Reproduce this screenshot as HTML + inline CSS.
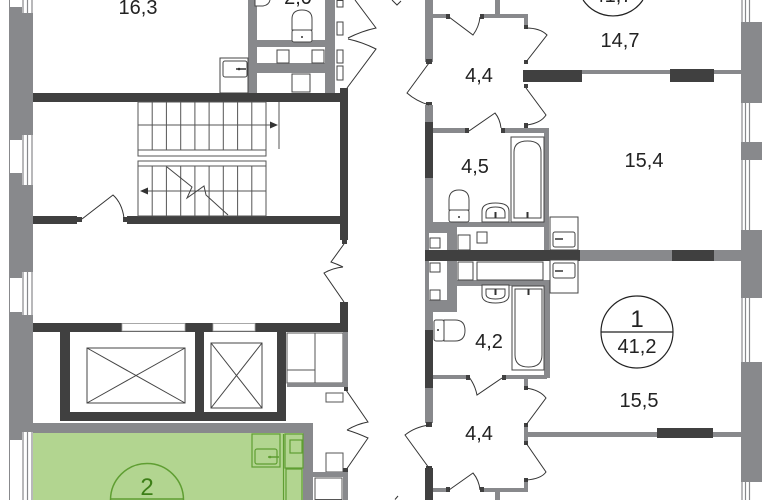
<!DOCTYPE html>
<html><head><meta charset="utf-8"><style>
html,body{margin:0;padding:0;background:#fff;width:770px;height:500px;overflow:hidden;}
svg{display:block;}
text{font-family:"Liberation Sans",Arial,sans-serif;}
</style></head><body>
<svg width="770" height="500" viewBox="0 0 770 500" xmlns="http://www.w3.org/2000/svg" style="overflow:hidden">
<rect width="770" height="500" fill="#fff"/>

<!-- exterior walls -->
<rect x="9" y="0" width="24" height="500" fill="#88898c"/>
<rect x="741" y="0" width="21" height="500" fill="#88898c"/>

<!-- left windows -->
<g stroke="#88898c" stroke-width="1.2">
<rect x="10" y="0" width="12" height="7" fill="#fff" stroke="none"/>
<rect x="22" y="0" width="11" height="13" fill="#fff" stroke="none"/>
<line x1="23" y1="0" x2="23" y2="13"/><line x1="27.5" y1="0" x2="27.5" y2="13"/><line x1="32" y1="0" x2="32" y2="13"/>
<rect x="10" y="140" width="12" height="33" fill="#fff" stroke="none"/>
<rect x="22" y="135" width="11" height="50" fill="#fff" stroke="none"/>
<line x1="23" y1="135" x2="23" y2="185"/><line x1="27.5" y1="135" x2="27.5" y2="185"/><line x1="32" y1="135" x2="32" y2="185"/>
<rect x="10" y="278" width="12" height="34" fill="#fff" stroke="none"/>
<rect x="22" y="272" width="11" height="43" fill="#fff" stroke="none"/>
<line x1="23" y1="272" x2="23" y2="315"/><line x1="27.5" y1="272" x2="27.5" y2="315"/><line x1="32" y1="272" x2="32" y2="315"/>
<rect x="10" y="440" width="12" height="60" fill="#fff" stroke="none"/>
<rect x="22" y="432" width="11" height="68" fill="#fff" stroke="none"/>
<line x1="23" y1="432" x2="23" y2="500"/><line x1="27.5" y1="432" x2="27.5" y2="500"/><line x1="32" y1="432" x2="32" y2="500"/>
</g>
<!-- right windows -->
<g stroke="#88898c" stroke-width="1.2">
<rect x="741" y="0" width="21" height="22" fill="#fff" stroke="none"/>
<line x1="742" y1="0" x2="742" y2="22"/><line x1="745.5" y1="0" x2="745.5" y2="22"/><line x1="749.5" y1="0" x2="749.5" y2="22"/>
<rect x="741" y="103" width="21" height="39" fill="#fff" stroke="none"/>
<line x1="742" y1="103" x2="742" y2="142"/><line x1="745.5" y1="103" x2="745.5" y2="142"/><line x1="749.5" y1="103" x2="749.5" y2="142"/>
<rect x="741" y="160" width="21" height="70" fill="#fff" stroke="none"/>
<line x1="742" y1="160" x2="742" y2="230"/><line x1="745.5" y1="160" x2="745.5" y2="230"/><line x1="749.5" y1="160" x2="749.5" y2="230"/>
<rect x="741" y="298" width="21" height="64" fill="#fff" stroke="none"/>
<line x1="742" y1="298" x2="742" y2="362"/><line x1="745.5" y1="298" x2="745.5" y2="362"/><line x1="749.5" y1="298" x2="749.5" y2="362"/>
<rect x="741" y="482" width="21" height="18" fill="#fff" stroke="none"/>
<line x1="742" y1="482" x2="742" y2="500"/><line x1="745.5" y1="482" x2="745.5" y2="500"/><line x1="749.5" y1="482" x2="749.5" y2="500"/>
</g>

<!-- top-left bathroom block -->
<rect x="248" y="0" width="9" height="93" fill="#88898c"/>
<rect x="325" y="0" width="10" height="93" fill="#88898c"/>
<rect x="257" y="40" width="68" height="7" fill="#88898c"/>
<rect x="257" y="63" width="68" height="10" fill="#88898c"/>
<g fill="#fff" stroke="#444" stroke-width="1">
<path d="M255 0 L255 6 L263 6 Q269 5 270 0"/>
<path d="M292 30 L292 19 Q292 10 302 10 Q312 10 312 19 L312 30 Z"/>
<rect x="292" y="30" width="20" height="12" rx="2"/>
<rect x="277" y="50" width="12" height="13"/>
<rect x="312" y="50" width="12" height="13"/>
<rect x="292" y="74" width="18" height="18"/>
<rect x="220" y="58" width="28" height="35"/>
<rect x="223" y="61" width="24" height="16" rx="2"/>
<rect x="337" y="0.5" width="6" height="6.5"/>
<rect x="337" y="22" width="6" height="13"/>
<rect x="337" y="50" width="6" height="13"/>
<rect x="337" y="66" width="6" height="14"/>
</g>
<circle cx="302" cy="37" r="1" fill="#333"/>
<line x1="236" y1="69" x2="246" y2="69" stroke="#333" stroke-width="1.5"/>
<circle cx="239" cy="69" r="1.3" fill="#333"/>

<!-- door top center -->
<g fill="none" stroke="#333" stroke-width="1">
<path d="M355 0 L376 28 Q362 31 348 38"/>
<path d="M348 39 Q362 42 376 49 L347 88"/>
<path d="M392 0 L397 5 L401 1"/>
</g>

<!-- stair walls -->
<rect x="33" y="93" width="315" height="9" fill="#404040"/>
<rect x="340" y="88" width="8" height="152" fill="#404040"/>
<rect x="33" y="216" width="44" height="8" fill="#404040"/>
<rect x="77" y="217" width="5" height="5" fill="#404040"/>
<rect x="127" y="216" width="213" height="8" fill="#404040"/>
<rect x="123" y="217" width="5" height="5" fill="#404040"/>
<path d="M82 219 L113 195 Q122 203 124 218" fill="none" stroke="#333" stroke-width="1"/>

<!-- stairs -->
<g fill="none" stroke="#555" stroke-width="1">
<rect x="138" y="102" width="128" height="48"/>
<line x1="152.2" y1="102" x2="152.2" y2="150"/><line x1="166.4" y1="102" x2="166.4" y2="150"/><line x1="180.7" y1="102" x2="180.7" y2="150"/><line x1="194.9" y1="102" x2="194.9" y2="150"/><line x1="209.1" y1="102" x2="209.1" y2="150"/><line x1="223.3" y1="102" x2="223.3" y2="150"/><line x1="237.6" y1="102" x2="237.6" y2="150"/><line x1="251.8" y1="102" x2="251.8" y2="150"/>
<line x1="138" y1="125" x2="272" y2="125"/>
<line x1="279" y1="102" x2="279" y2="149"/>
<rect x="138" y="150" width="128" height="6"/>
<rect x="138" y="161" width="128" height="5"/>
<rect x="138" y="166" width="128" height="50"/>
<line x1="152.2" y1="166" x2="152.2" y2="216"/><line x1="166.4" y1="166" x2="166.4" y2="216"/><line x1="180.7" y1="166" x2="180.7" y2="216"/><line x1="194.9" y1="166" x2="194.9" y2="216"/><line x1="209.1" y1="166" x2="209.1" y2="216"/><line x1="223.3" y1="166" x2="223.3" y2="216"/><line x1="237.6" y1="166" x2="237.6" y2="216"/><line x1="251.8" y1="166" x2="251.8" y2="216"/>
<line x1="146" y1="191" x2="266" y2="191"/>
<path d="M167 167 L192 187 L187 198 L204 186 L206 195 L228 215" stroke="#444"/>
</g>
<path d="M278 125 L270 121.5 L270 128.5 Z" fill="#333"/>
<path d="M140 191 L148 187.5 L148 194.5 Z" fill="#333"/>

<!-- door stair/lobby -->
<rect x="342" y="240" width="5" height="4" fill="#404040"/>
<g fill="none" stroke="#333" stroke-width="1">
<path d="M344 244 L331 262 Q337 264 343 267"/>
<path d="M344 302 L324 273 Q333 268 343 267"/>
</g>
<rect x="340" y="302" width="8" height="30" fill="#404040"/>

<!-- lobby wall & elevators -->
<rect x="33" y="323" width="315" height="9" fill="#404040"/>
<rect x="122" y="323.5" width="63" height="7.5" fill="#fff" stroke="#aaa" stroke-width="0.8"/>
<rect x="213" y="323.5" width="42" height="7.5" fill="#fff" stroke="#aaa" stroke-width="0.8"/>
<rect x="60" y="332" width="10" height="89" fill="#404040"/>
<rect x="195" y="332" width="9" height="89" fill="#404040"/>
<rect x="277" y="332" width="9" height="89" fill="#404040"/>
<rect x="60" y="412" width="226" height="9" fill="#404040"/>
<g fill="none" stroke="#444" stroke-width="1">
<rect x="87" y="348" width="98" height="55"/>
<line x1="87" y1="348" x2="185" y2="403"/><line x1="185" y1="348" x2="87" y2="403"/>
<rect x="211" y="343" width="51" height="65"/>
<line x1="211" y1="343" x2="262" y2="408"/><line x1="262" y1="343" x2="211" y2="408"/>
</g>
<g fill="#fff" stroke="#555" stroke-width="1">
<rect x="287" y="333" width="28" height="37"/>
<rect x="287" y="370" width="28" height="13"/>
<rect x="315" y="333" width="28" height="50"/>
<rect x="326" y="393" width="17" height="9"/>
<rect x="326" y="453" width="17" height="19"/>
<rect x="315" y="478" width="27" height="21.5"/>
</g>
<rect x="343" y="332" width="5" height="55" fill="#88898c"/>
<rect x="287" y="383" width="61" height="4" fill="#88898c"/>
<rect x="344" y="387" width="4" height="4" fill="#404040"/>
<g fill="none" stroke="#333" stroke-width="1">
<path d="M346 390 L368 422 Q357 424 347 430"/>
<path d="M347 430 Q357 433 368 438 L346 470"/>
</g>
<rect x="343" y="468" width="5" height="4" fill="#404040"/>
<rect x="313" y="472" width="35" height="5" fill="#88898c"/>
<rect x="343" y="472" width="5" height="28" fill="#88898c"/>

<!-- green apartment -->
<rect x="33" y="423" width="280" height="10" fill="#88898c"/>
<rect x="303" y="423" width="10" height="77" fill="#88898c"/>
<rect x="33" y="433" width="270" height="67" fill="#b2d590"/>
<g fill="none" stroke="#5f9e32" stroke-width="1.2">
<rect x="252" y="434" width="28" height="33"/>
<rect x="255" y="449" width="22" height="15" rx="2"/>
<rect x="285" y="434" width="18" height="34"/>
<rect x="290" y="440" width="12" height="13"/>
<path d="M286 500 L286 469 L302 469 L302 500"/>
<line x1="283.5" y1="434" x2="283.5" y2="500"/>
<path d="M110.5 500 A36.5 36.5 0 0 1 183.5 500" stroke-width="1.5"/>
<line x1="110.5" y1="499" x2="183.5" y2="499" stroke-width="1.5"/>
</g>
<line x1="268" y1="457" x2="279" y2="457" stroke="#5f9e32" stroke-width="1.5"/>
<circle cx="270" cy="457" r="1.3" fill="#5f9e32"/>
<text x="147" y="495" font-size="24" fill="#3d7f17" text-anchor="middle">2</text>

<!-- right side: corridor wall -->
<rect x="425" y="0" width="8" height="62" fill="#88898c"/>
<rect x="426" y="59" width="6" height="5" fill="#404040"/>
<rect x="426" y="102" width="6" height="4" fill="#404040"/>
<rect x="425" y="105" width="8" height="17" fill="#88898c"/>
<rect x="425" y="122" width="8" height="56" fill="#404040"/>
<rect x="425" y="178" width="8" height="44" fill="#88898c"/>
<rect x="425" y="222" width="32" height="28" fill="#88898c"/>
<rect x="429" y="233" width="18" height="17" fill="#fff"/>
<rect x="425" y="260" width="32" height="52" fill="#88898c"/>
<rect x="429" y="260" width="18" height="40" fill="#fff"/>
<rect x="425" y="312" width="8" height="18" fill="#88898c"/>
<rect x="425" y="330" width="8" height="58" fill="#404040"/>
<rect x="425" y="388" width="8" height="35" fill="#88898c"/>
<rect x="426" y="422" width="6" height="5" fill="#404040"/>
<rect x="426" y="466" width="6" height="5" fill="#404040"/>
<rect x="425" y="468" width="8" height="32" fill="#404040"/>
<g fill="none" stroke="#333" stroke-width="1">
<path d="M429 63 L407 93 Q416 101 429 105"/>
<path d="M429 425 Q415 427 405 435 L429 468"/>
</g>

<!-- top right walls -->
<rect x="433" y="14" width="15" height="4" fill="#88898c"/>
<rect x="446" y="14" width="4" height="5" fill="#404040"/>
<rect x="480" y="14" width="48" height="4" fill="#88898c"/>
<rect x="480" y="14" width="4" height="5" fill="#404040"/>
<rect x="495" y="0" width="5" height="14" fill="#88898c"/>
<rect x="524" y="14" width="4" height="13" fill="#88898c"/>
<rect x="524" y="25" width="4" height="4" fill="#404040"/>
<rect x="524" y="60" width="4" height="4" fill="#404040"/>
<rect x="524" y="84" width="4" height="4" fill="#404040"/>
<rect x="524" y="123" width="4" height="5" fill="#404040"/>
<rect x="523" y="70" width="59" height="12" fill="#404040"/>
<rect x="582" y="70" width="88" height="4" fill="#88898c"/>
<rect x="670" y="69" width="44" height="13" fill="#404040"/>
<rect x="714" y="70" width="27" height="4" fill="#88898c"/>
<g fill="none" stroke="#333" stroke-width="1">
<path d="M449 17 L473 35 Q479 27 480 17"/>
<path d="M526 28 Q540 28 547 35 L526 62"/>
<path d="M526 88 L546 115 Q541 123 527 125"/>
<path d="M469 131 L495 113 Q500 119 501 128"/>
</g>
<rect x="433" y="128" width="34" height="5" fill="#88898c"/>
<rect x="465" y="128" width="4" height="5" fill="#404040"/>
<rect x="501" y="128" width="48" height="5" fill="#88898c"/>
<rect x="501" y="128" width="4" height="5" fill="#404040"/>
<rect x="544" y="128" width="5" height="122" fill="#88898c"/>
<rect x="433" y="222" width="114" height="5" fill="#88898c"/>

<!-- bathroom 4,5 fixtures -->
<g fill="#fff" stroke="#444" stroke-width="1">
<rect x="511" y="137" width="33" height="85"/>
<path d="M514 218 L514 152 Q514 141 527.5 141 Q541 141 541 152 L541 218 Z"/>
<path d="M449 210 L449 200 Q449 190 459 190 Q469 190 469 200 L469 210 Z"/>
<rect x="449" y="210" width="20" height="12" rx="2"/>
<path d="M482 222 L482 211 Q482 203 495.5 203 Q509 203 509 211 L509 222 Z"/>
<path d="M486 218 L486 213 Q486 207 495.5 207 Q505 207 505 213 L505 218 Z"/>
<rect x="430" y="238" width="10" height="10"/>
<rect x="458" y="235" width="12" height="15"/>
<rect x="477" y="232" width="10" height="11"/>
<rect x="550" y="217" width="28" height="33"/>
<rect x="553" y="232" width="22" height="15" rx="2"/>
</g>
<circle cx="459" cy="217" r="1" fill="#333"/>
<line x1="495.5" y1="212" x2="495.5" y2="218" stroke="#333" stroke-width="2"/>
<line x1="527.5" y1="212" x2="527.5" y2="218" stroke="#333" stroke-width="2"/>
<line x1="555" y1="239" x2="563" y2="239" stroke="#333" stroke-width="1.5"/>

<!-- middle horizontal wall -->
<rect x="425" y="250" width="155" height="11" fill="#404040"/>
<rect x="580" y="250" width="92" height="11" fill="#88898c"/>
<rect x="672" y="250" width="42" height="11" fill="#404040"/>
<rect x="714" y="250" width="27" height="11" fill="#88898c"/>

<!-- bathroom 4,2 -->
<rect x="457" y="280" width="93" height="6" fill="#88898c"/>
<rect x="544" y="280" width="6" height="98" fill="#88898c"/>
<g fill="#fff" stroke="#444" stroke-width="1">
<rect x="430" y="263" width="10" height="9"/>
<rect x="430" y="290" width="10" height="10"/>
<rect x="458" y="262" width="15" height="18"/>
<rect x="477" y="262" width="66" height="18"/>
<rect x="550" y="260" width="28" height="33"/>
<rect x="553" y="263" width="22" height="15" rx="2"/>
<rect x="512" y="286" width="32" height="84"/>
<path d="M515 289 L542 289 L542 355 Q542 367 528.5 367 Q515 367 515 355 Z"/>
<path d="M482 285 L482 295 Q482 303 495.5 303 Q509 303 509 295 L509 285 Z"/>
<path d="M486 289 L505 289 L505 294 Q505 299 495.5 299 Q486 299 486 294 Z"/>
<path d="M444 320 L455 320 Q465 320 465 330.5 Q465 341 455 341 L444 341 Z"/>
<rect x="434" y="320" width="10" height="21" rx="2"/>
</g>
<circle cx="438" cy="330" r="1" fill="#333"/>
<line x1="495.5" y1="289" x2="495.5" y2="295" stroke="#333" stroke-width="2"/>
<line x1="528.5" y1="289" x2="528.5" y2="295" stroke="#333" stroke-width="2"/>
<line x1="555" y1="271" x2="563" y2="271" stroke="#333" stroke-width="1.5"/>

<rect x="433" y="375" width="36" height="4" fill="#88898c"/>
<rect x="466" y="375" width="4" height="5" fill="#404040"/>
<rect x="502" y="375" width="45" height="4" fill="#88898c"/>
<rect x="502" y="375" width="4" height="5" fill="#404040"/>
<rect x="524" y="379" width="4" height="9" fill="#88898c"/>
<rect x="524" y="386" width="4" height="4" fill="#404040"/>
<rect x="524" y="425" width="4" height="18" fill="#88898c"/>
<rect x="524" y="423" width="4" height="4" fill="#404040"/>
<rect x="524" y="441" width="4" height="4" fill="#404040"/>
<rect x="528" y="432" width="129" height="5" fill="#88898c"/>
<rect x="657" y="428" width="56" height="10" fill="#404040"/>
<rect x="713" y="432" width="28" height="5" fill="#88898c"/>
<rect x="524" y="480" width="4" height="12" fill="#88898c"/>
<rect x="524" y="478" width="4" height="4" fill="#404040"/>
<rect x="482" y="488" width="46" height="4" fill="#88898c"/>
<rect x="480" y="487" width="4" height="5" fill="#404040"/>
<rect x="433" y="488" width="15" height="4" fill="#88898c"/>
<rect x="446" y="487" width="4" height="5" fill="#404040"/>
<rect x="495" y="492" width="5" height="8" fill="#88898c"/>
<g fill="none" stroke="#333" stroke-width="1">
<path d="M469 377 Q475 385 477 395 L502 378"/>
<path d="M526 388 Q540 390 546 398 L526 425"/>
<path d="M526 443 L546 472 Q541 479 526 480"/>
<path d="M449 490 L473 473 Q479 480 480 490"/>
<path d="M395 499.5 L398 496"/>
</g>

<!-- circles -->
<g fill="none" stroke="#222" stroke-width="1.2">
<path d="M583.1 0 A36 36 0 0 0 642.9 0"/>
<circle cx="637" cy="332" r="36"/>
<line x1="601" y1="332" x2="673" y2="332"/>
</g>

<!-- labels -->
<g font-size="20" fill="#222" text-anchor="middle">
<text x="138" y="14">16,3</text>
<text x="298" y="4">2,0</text>
<text x="613" y="2">41,7</text>
<text x="620" y="47">14,7</text>
<text x="479" y="82">4,4</text>
<text x="475" y="173">4,5</text>
<text x="644" y="167">15,4</text>
<text x="637" y="327" font-size="24">1</text>
<text x="637" y="353">41,2</text>
<text x="489" y="348">4,2</text>
<text x="639" y="407">15,5</text>
<text x="479" y="440">4,4</text>
</g>
</svg>
</body></html>
